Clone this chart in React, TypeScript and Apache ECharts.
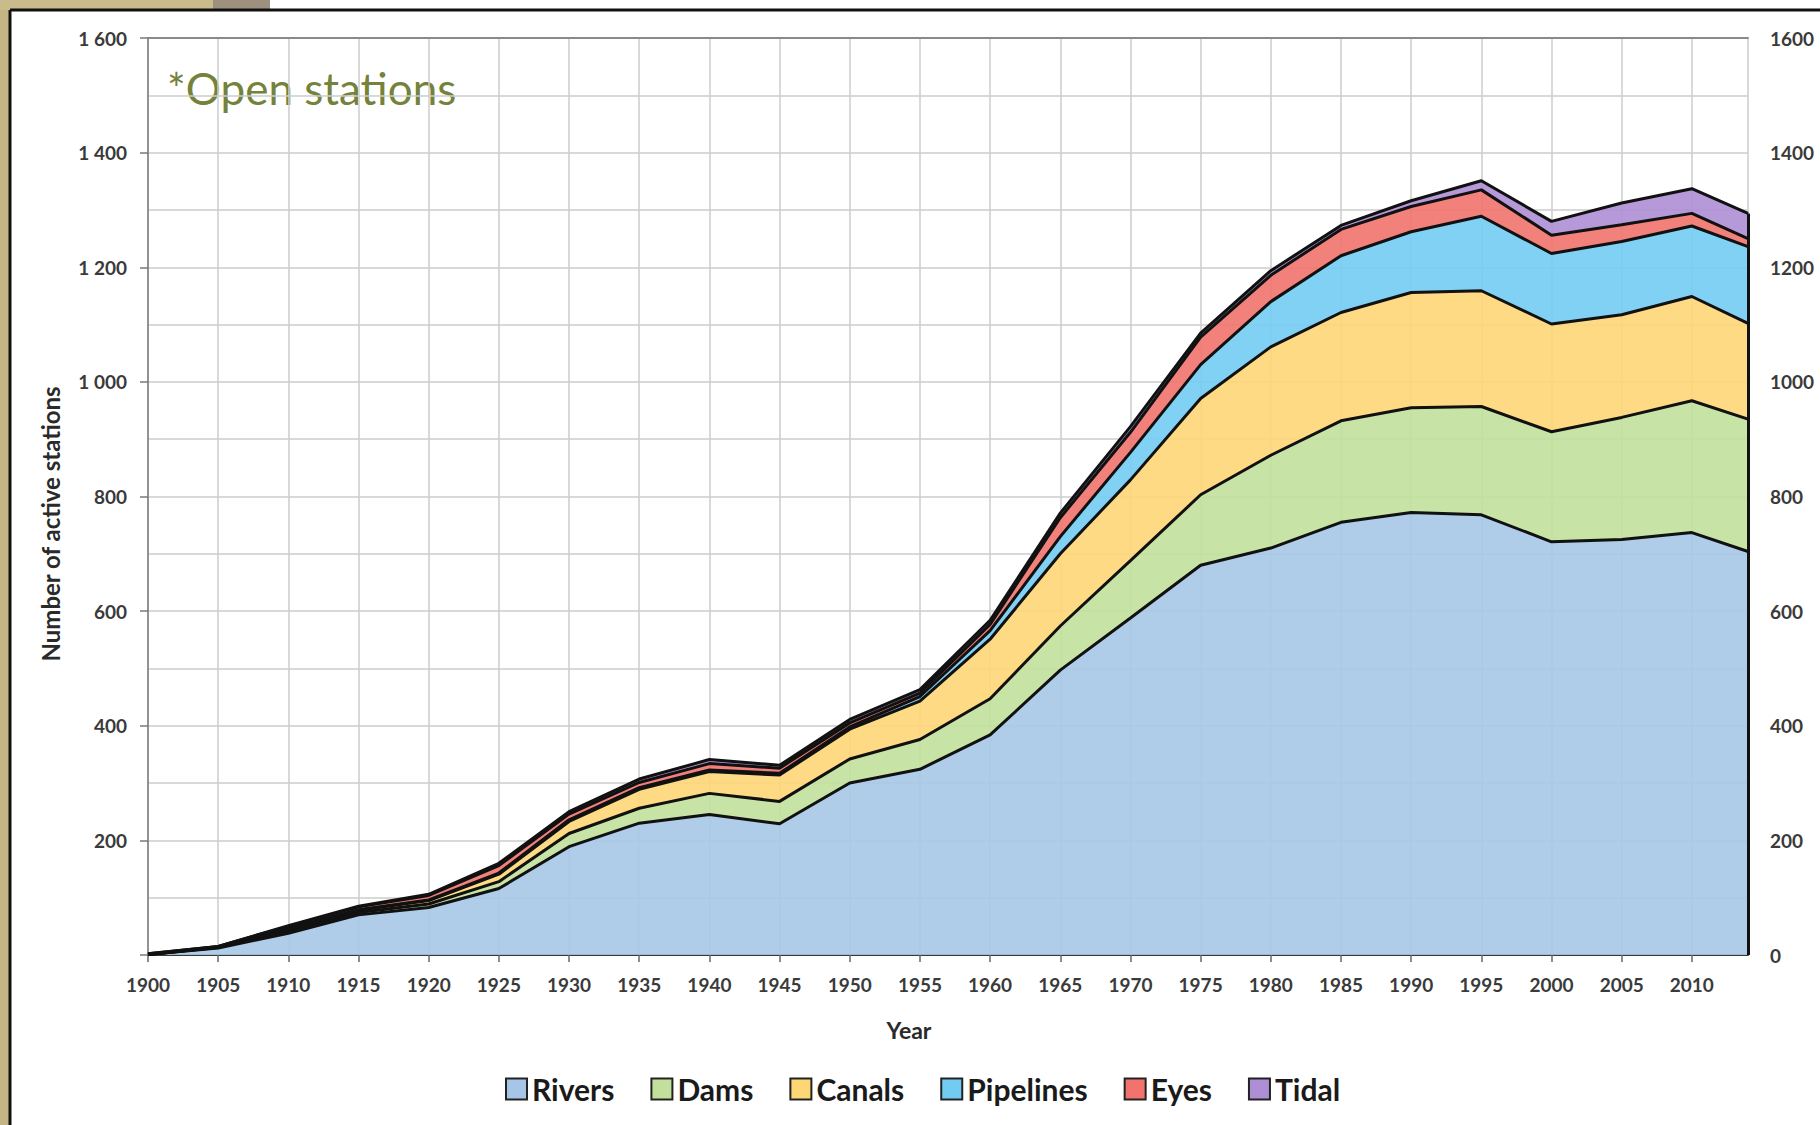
import React, { useEffect, useRef } from "react";
import * as echarts from "echarts";

const years = [1900, 1905, 1910, 1915, 1920, 1925, 1930, 1935, 1940, 1945, 1950, 1955, 1960, 1965, 1970, 1975, 1980, 1985, 1990, 1995, 2000, 2005, 2010, 2014];
const rivers = [1, 12, 38, 70, 83, 116, 189, 230, 245, 229, 300, 324, 384, 497, 588, 680, 710, 755, 772, 768, 721, 725, 737, 704];
const dams = [0, 1, 4, 4, 6, 12, 23, 26, 37, 39, 42, 52, 63, 77, 100, 123, 162, 177, 183, 189, 192, 213, 230, 231];
const canals = [0, 1, 3, 4, 6, 13, 21, 33, 38, 46, 52, 67, 104, 126, 141, 168, 189, 189, 201, 202, 188, 179, 182, 167];
const pipelines = [0, 0, 1, 1, 1, 2, 3, 3, 3, 3, 4, 8, 15, 30, 48, 59, 79, 99, 106, 130, 123, 128, 123, 134];
const eyes = [1, 1, 4, 5, 8, 13, 10, 9, 11, 9, 7, 6, 11, 33, 35, 48, 46, 46, 44, 46, 32, 29, 22, 14];
const tidal = [0, 0, 1, 1, 2, 4, 4, 6, 7, 5, 6, 6, 7, 8, 10, 7, 8, 7, 10, 16, 24, 38, 43, 44];

const seriesNames = ["Rivers", "Dams", "Canals", "Pipelines", "Eyes", "Tidal"];
const seriesValues = [rivers, dams, canals, pipelines, eyes, tidal];
const seriesColors = ["#a6c6e7", "#c2e09c", "#fdd676", "#72ccf2", "#f2736d", "#ae8ed4"];

const FONT = "Lato, 'Open Sans', sans-serif";

export default function App() {
  const ref = useRef<HTMLDivElement>(null);

  useEffect(() => {
    if (!ref.current) return;
    const chart = echarts.init(ref.current, undefined, { renderer: "svg" });

    // value first, year second, so that stacking happens on the value dimension
    const seriesData = (i: number) => years.map((y, j) => [seriesValues[i][j], y]);

    const areaSeries = seriesNames.map((n, i) => ({
      name: n,
      type: "line",
      stack: "area",
      data: seriesData(i),
      encode: { x: 1, y: 0 },
      symbol: "none",
      showSymbol: false,
      lineStyle: { width: 0 },
      itemStyle: { color: seriesColors[i], borderColor: "#222", borderWidth: 2 },
      areaStyle: { color: seriesColors[i], opacity: 0.9 },
      z: 2,
    }));

    const lastIdx = years.length - 1;
    const lastTotal = seriesValues.reduce((s, arr) => s + arr[lastIdx], 0);

    const lineSeries = seriesNames.map((n, i) => ({
      name: n + " border",
      type: "line",
      stack: "border",
      data: seriesData(i),
      encode: { x: 1, y: 0 },
      symbol: "none",
      showSymbol: false,
      lineStyle: { color: "#111", width: 3 },
      z: 3,
      silent: true,
      markLine:
        i === seriesNames.length - 1
          ? {
              silent: true,
              symbol: "none",
              label: { show: false },
              lineStyle: { color: "#111", width: 3, type: "solid" },
              data: [[{ coord: [years[lastIdx], 0] }, { coord: [years[lastIdx], lastTotal] }]],
            }
          : undefined,
    }));

    const gridLine = { color: "#cdcdcd", width: 1.5 };
    const labelStyle = { fontFamily: FONT, fontWeight: "bold", fontSize: 19, color: "#3a3a3a" };

    chart.setOption({
      animation: false,
      backgroundColor: "#ffffff",
      grid: { left: 148, right: 72, top: 38, bottom: 170, containLabel: false },
      xAxis: [
        {
          type: "value",
          min: 1900,
          max: 2014,
          interval: 5,
          axisLine: { show: true, lineStyle: { color: "#3a3a3a", width: 2 } },
          axisTick: { show: true, length: 7, lineStyle: { color: "#666", width: 1.5 } },
          axisLabel: { ...labelStyle, margin: 20, showMaxLabel: false, formatter: (v: number) => String(v) },
          splitLine: { show: true, lineStyle: gridLine },
        },
        {
          type: "value",
          position: "top",
          min: 1900,
          max: 2014,
          interval: 5,
          axisLine: { show: true, onZero: false, lineStyle: { color: "#8a8a8a", width: 2 } },
          axisTick: { show: false },
          axisLabel: { show: false },
          splitLine: { show: false },
        },
      ],
      yAxis: [
        {
          type: "value",
          min: 0,
          max: 1600,
          interval: 200,
          axisLine: { show: true, lineStyle: { color: "#7a7a7a", width: 1.5 } },
          axisTick: { show: true, length: 8, lineStyle: { color: "#7a7a7a", width: 1.5 } },
          axisLabel: {
            ...labelStyle,
            margin: 21,
            formatter: (v: number) => {
              if (v === 0) return "";
              if (v >= 1000) return Math.floor(v / 1000) + " " + String(v % 1000).padStart(3, "0");
              return String(v);
            },
          },
          splitLine: { show: true, lineStyle: gridLine },
          minorTick: { show: false, splitNumber: 2 },
          minorSplitLine: { show: true, lineStyle: gridLine },
        },
        {
          type: "value",
          position: "right",
          min: 0,
          max: 1600,
          interval: 200,
          axisLine: { show: false },
          axisTick: { show: false },
          axisLabel: { ...labelStyle, margin: 22, formatter: (v: number) => String(v) },
          splitLine: { show: false },
        },
      ],
      legend: {
        data: seriesNames,
        left: 500,
        top: 1069,
        icon: "rect",
        itemWidth: 21,
        itemHeight: 21,
        itemGap: 36,
        itemStyle: { borderColor: "#222", borderWidth: 2 },
        textStyle: { fontFamily: FONT, fontWeight: "bold", fontSize: 30, color: "#1a1a1a" },
        selectedMode: false,
      },
      graphic: [
        { type: "rect", shape: { x: 0, y: 0, width: 10, height: 1125 }, style: { fill: "#c4b584" } },
        { type: "rect", shape: { x: 0, y: 0, width: 213, height: 10 }, style: { fill: "#c9bb8b" } },
        { type: "rect", shape: { x: 213, y: 0, width: 57, height: 10 }, style: { fill: "#9d907f" } },
        { type: "line", shape: { x1: 10, y1: 10, x2: 1820, y2: 10 }, style: { stroke: "#111", lineWidth: 3 } },
        { type: "line", shape: { x1: 10, y1: 10, x2: 10, y2: 1125 }, style: { stroke: "#111", lineWidth: 3 } },
        {
          type: "text",
          x: 167,
          y: 88,
          style: { text: "*Open stations", font: `44px ${FONT}`, fill: "#74823c", textVerticalAlign: "middle" },
        },
        {
          type: "text",
          x: 909,
          y: 1030,
          style: {
            text: "Year",
            font: `bold 23px ${FONT}`,
            fill: "#2a2a2a",
            textAlign: "center",
            textVerticalAlign: "middle",
          },
        },
        {
          type: "text",
          x: 50,
          y: 524,
          rotation: Math.PI / 2,
          style: {
            text: "Number of active stations",
            font: `bold 24px ${FONT}`,
            fill: "#2a2a2a",
            textAlign: "center",
            textVerticalAlign: "middle",
          },
        },
      ],
      series: [...areaSeries, ...lineSeries],
    });

    return () => chart.dispose();
  }, []);

  return <div ref={ref} style={{ position: "absolute", left: 0, top: 0, width: 1820, height: 1125 }} />;
}
